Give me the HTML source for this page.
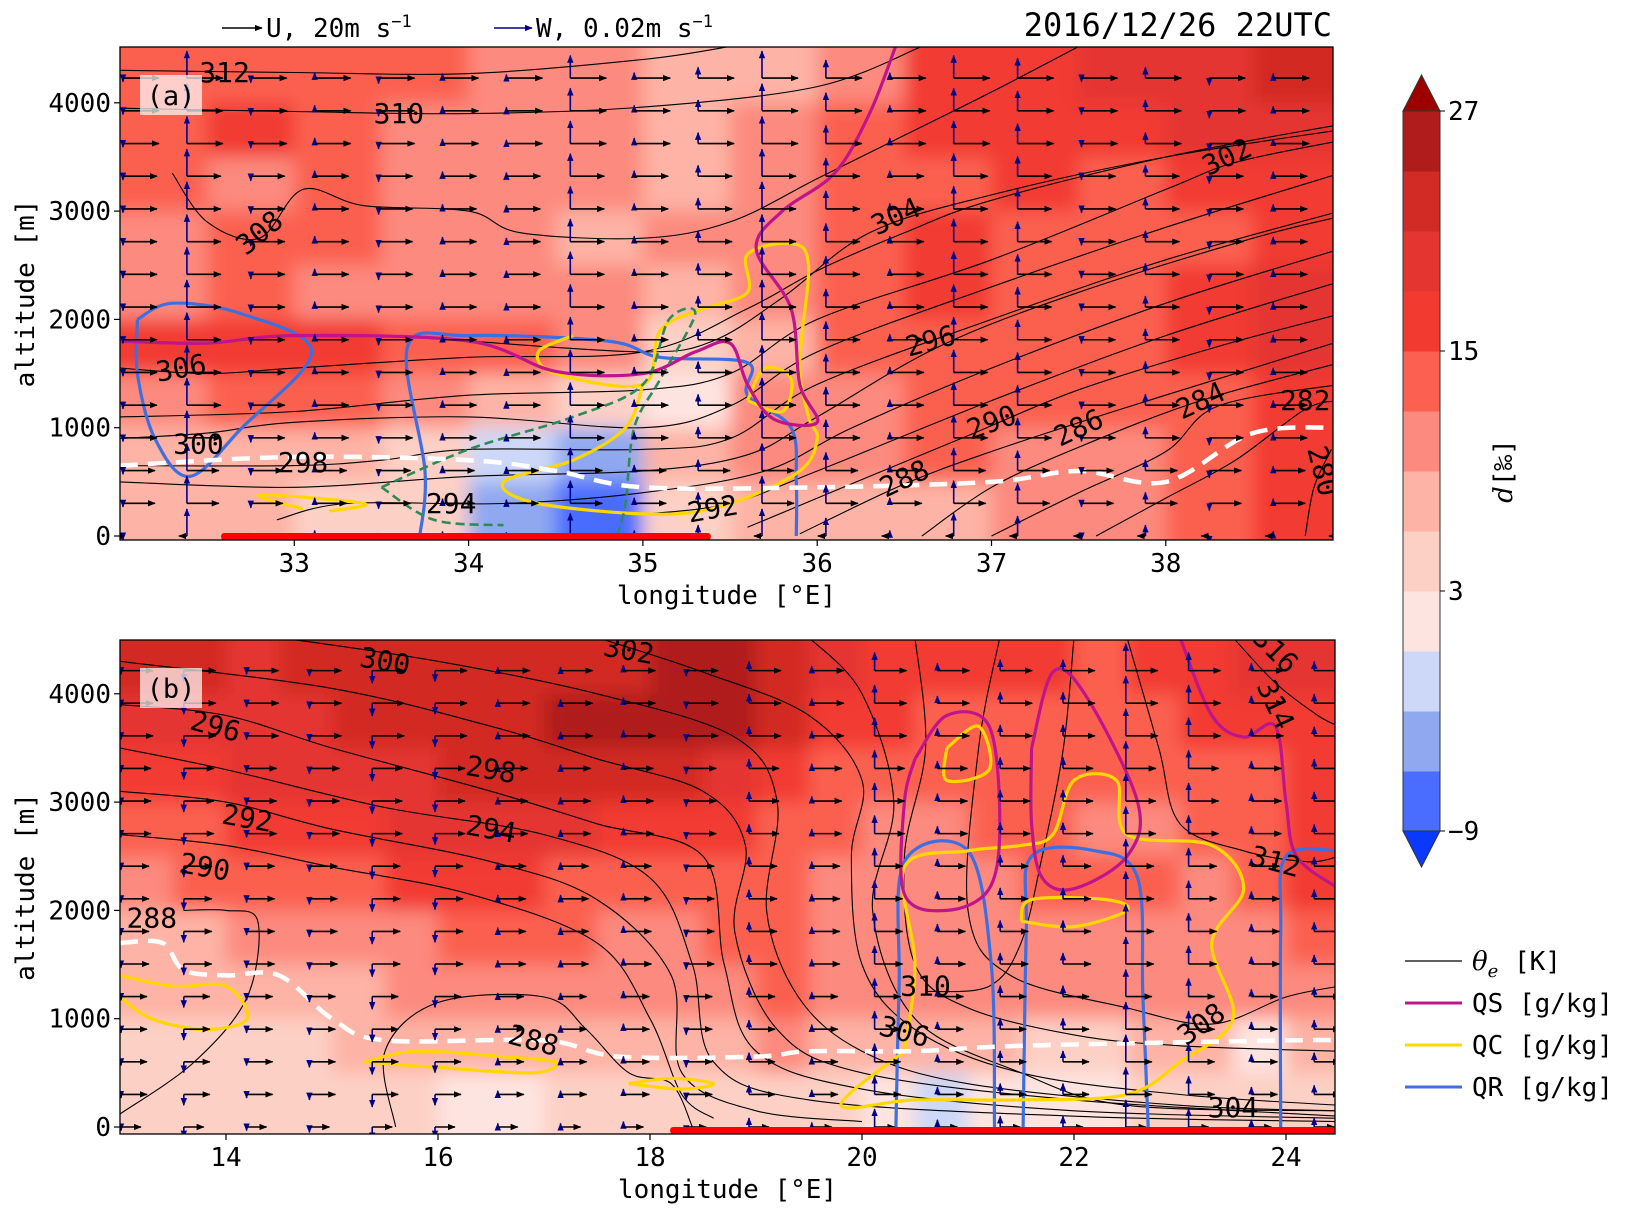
<!DOCTYPE html>
<html><head><meta charset="utf-8">
<style>
html,body{margin:0;padding:0;background:#fff;}
svg{display:block;font-family:"DejaVu Sans Mono","Liberation Mono",monospace;}
</style></head>
<body>
<svg id="fig" width="1628" height="1213" viewBox="0 0 1628 1213" xmlns="http://www.w3.org/2000/svg">
<defs>
  <filter id="blur" x="-5%" y="-5%" width="110%" height="110%"><feGaussianBlur stdDeviation="9"/></filter>
  <clipPath id="clipA"><rect x="120" y="47" width="1213" height="493"/></clipPath>
  <clipPath id="clipB"><rect x="120" y="640" width="1215" height="494"/></clipPath>
  <marker id="ahK" viewBox="0 0 10 10" refX="9" refY="5" markerWidth="5" markerHeight="5" orient="auto"><path d="M0,1 L10,5 L0,9 z" fill="#000"/></marker>
  <marker id="ahB" viewBox="0 0 10 10" refX="9" refY="5" markerWidth="5" markerHeight="5" orient="auto"><path d="M0,1 L10,5 L0,9 z" fill="#00008b"/></marker>
</defs>
<g id="root"></g>
</svg>
<script>
const cbBounds=[-9,-6,-3,0,3,6,9,12,15,18,21,24,27];
const cbColors=['#4a6cff','#8fa8f0','#cdd8f8','#fee4e0','#fdd0c5','#fdb3a5','#fc8a7e','#fb6050','#f23a30','#e43530','#d22a24','#b01c1c'];
const cbTicks=[27,15,3,-9];
const aLon=[32.25,32.75,33.25,33.75,34.25,34.75,35.25,35.75,36.25,36.75,37.25,37.75,38.25,38.75];
const aAlt=[4250,3750,3250,2750,2250,1750,1250,750,250];
const aD=[
[12,12,12,12,9,9,6,6,9,15,15,18,18,21],
[12,15,12,9,9,9,6,9,12,15,15,15,18,18],
[12,9,12,9,9,9,6,9,12,12,15,12,15,15],
[9,12,12,9,9,6,9,9,12,15,12,12,12,15],
[9,12,9,9,9,9,6,9,12,15,12,12,15,18],
[15,15,15,12,12,9,3,6,12,12,12,12,15,18],
[9,12,12,9,6,3,0,9,9,12,12,12,12,15],
[6,6,6,3,-3,-6,6,9,9,12,9,9,12,15],
[6,6,3,3,-6,-9,3,6,6,6,9,9,12,15]];
const bLon=[13.25,13.75,14.25,14.75,15.25,15.75,16.25,16.75,17.25,17.75,18.25,18.75,19.25,19.75,20.25,20.75,21.25,21.75,22.25,22.75,23.25,23.75,24.25];
const bAlt=[4250,3750,3250,2750,2250,1750,1250,750,250];
const bD=[
[21,21,18,21,21,21,21,21,21,21,24,24,21,18,15,15,15,15,12,15,15,18,18],
[18,18,18,18,21,21,21,21,24,24,27,24,21,15,15,12,12,12,12,12,15,15,15],
[15,15,18,18,18,18,21,21,21,21,21,18,15,12,12,12,12,12,12,12,12,12,15],
[12,12,15,15,15,18,18,18,18,15,15,15,12,12,9,9,12,12,9,9,12,12,15],
[9,12,12,12,12,15,15,15,12,12,12,12,12,9,9,9,9,12,12,12,9,12,15],
[6,6,9,9,9,9,12,12,12,9,9,12,12,9,9,9,9,9,9,9,9,9,12],
[6,6,6,6,6,9,9,9,9,9,9,9,12,9,9,9,9,9,9,9,9,9,9],
[3,3,3,3,6,6,6,6,6,6,6,6,9,6,6,6,6,3,3,6,6,0,6],
[3,3,3,3,3,3,0,0,3,3,3,3,3,3,0,-3,0,0,0,3,3,3,3]];
const aRowAlt=[0,302,604,906,1208,1510,1812,2114,2416,2718,3020,3322,3624,3926,4228];
const aU=[-4,16,16,17,17,17,17,17,17,17,17,17,18,18,18];
const aW=[-0.004,0.03,-0.005,0.006,-0.006,0.005,0.004,0.025,0.006,0.012,0.03,0.02,0.006,0.025,0.022,-0.004,0.012,-0.008,0.005,0.006];
const bRowAlt=[0,301,602,903,1204,1505,1806,2107,2408,2709,3010,3311,3612,3913,4214];
const bU=[10,13,13,13,13,14,14,14,14,15,15,15,16,16,16];
const bW=[-0.004,-0.012,-0.004,-0.006,-0.014,-0.012,0.004,0.004,0.006,-0.006,0.01,0.005,0.02,0.008,0.012,0.012,0.03,0.02,0.008,0.01,-0.008];
const aTheta=[
[312,[[32,4300],[33,4280],[34,4270],[35,4400],[35.5,4520]]],
[310,[[32,3950],[33,3920],[34,3900],[35,3960],[36,4150],[36.6,4520]]],
[308,[[32.3,3350],[32.5,2900],[32.8,2750],[33.05,3200],[33.4,3050],[34,3000],[34.3,2800],[35,2750],[35.5,2900],[36,3300],[36.5,3700],[37,4100],[37.5,4520]]],
[306,[[32,1550],[32.5,1500],[33,1550],[34,1650],[35,1700],[35.6,2100],[36,2450],[36.5,2800],[37,3100],[38,3500],[39,3800]]],
[304,[[34,1800],[35,1700],[35.4,1800],[35.8,2200],[36.3,2800],[37,3150],[38,3500],[39,3750]]],
[302,[[32,1100],[33,1150],[34,1300],[35,1350],[35.5,1500],[36,2000],[37,2550],[38,3200],[38.4,3450],[39,3650]]],
[300,[[32,900],[32.5,950],[33,1050],[34,1100],[35,1000],[35.5,1200],[36,1700],[37,2300],[38,2850],[39,3350]]],
[298,[[32,650],[33,650],[33.5,700],[34,800],[35,800],[35.5,900],[36,1400],[37,2000],[38,2550],[39,3000]]],
[296,[[32,500],[33,450],[34,550],[35,600],[35.6,750],[36,1100],[36.7,1750],[37.5,2250],[38.5,2750],[39,2950]]],
[294,[[32.9,150],[33.3,300],[34.2,300],[35,400],[35.7,600],[36.2,1000],[37,1550],[38,2150],[39,2650]]],
[292,[[35,200],[35.5,300],[36,600],[37,1250],[38,1850],[39,2350]]],
[290,[[35.6,80],[36.3,550],[36.9,950],[37.5,1350],[38.3,1750],[39,2050]]],
[288,[[35.9,20],[36.5,480],[37,780],[37.7,1150],[38.5,1550],[39,1800]]],
[286,[[36.6,0],[37,450],[37.5,820],[38.2,1250],[39,1600]]],
[284,[[37,0],[37.5,400],[38,780],[38.3,1200],[39,1400]]],
[282,[[37.6,0],[38,350],[38.4,700],[38.8,1170],[39,1250]]],
[280,[[38.8,0],[38.85,450],[38.95,800]]]];
const aLabels=[[312,32.6,4280,0],[310,33.6,3900,0],[308,32.8,2800,-40],[306,32.35,1550,-10],[304,36.45,2950,-25],[302,38.35,3500,-25],[300,32.45,850,0],[298,33.05,680,0],[296,36.65,1800,-15],[294,33.9,300,0],[292,35.4,250,-10],[290,37.0,1050,-20],[288,36.5,530,-25],[286,37.5,1000,-25],[284,38.2,1250,-25],[282,38.8,1250,0],[280,38.9,600,75]];
const bTheta=[
[302,[[17.5,4520],[18.5,4200],[19.5,3800],[20,3200],[19.9,2500],[20,1500],[20.5,900],[21.5,500],[23,300],[24.5,200]]],
[300,[[14.5,4520],[16,4300],[17.5,4000],[18.8,3600],[19.2,3000],[19.1,2000],[19.4,1200],[20,700],[21,400],[23,200],[24.5,150]]],
[298,[[13,4300],[15,4050],[16.5,3700],[17.5,3400],[18.5,3100],[18.9,2600],[18.8,1800],[19.2,900],[20,500],[22,250],[24.5,100]]],
[296,[[13,3900],[14,3800],[15,3500],[16.5,3100],[17.5,2800],[18.5,2500],[18.7,1500],[19,700],[20,350],[22,150],[24.5,80]]],
[294,[[13,3500],[14,3300],[15.5,2950],[17,2700],[18,2300],[18.4,1500],[18.6,600],[19.5,250],[22,100],[24.5,50]]],
[292,[[13,3100],[14,3000],[15,2750],[16.5,2450],[17.5,2100],[18.2,1400],[18.3,500],[19,150],[20,50]]],
[290,[[13,2700],[14,2600],[15,2400],[16.3,2150],[17.5,1700],[18,1000],[18.3,300],[18.6,80]]],
[288,[[13,120],[13.7,600],[14.2,1200],[14.3,1900],[14.0,2000],[13.6,2000]]],
[288,[[15.6,0],[15.5,700],[16,1150],[17,1200],[17.4,900],[17.8,500],[18.2,400],[18.4,0]]],
[304,[[19.5,4520],[20,4000],[20.3,3000],[20.1,2000],[20.5,1000],[21.5,500],[22.5,200],[24.5,150]]],
[306,[[20.5,4520],[20.6,3500],[20.4,2500],[20.5,1500],[21,1100],[22,850],[23,750],[24.5,700]]],
[308,[[21.3,4520],[21.1,3500],[21,2000],[21.4,1400],[22.5,1100],[23.3,950],[24,1200],[24.5,1300]]],
[310,[[22,4520],[21.9,3500],[21.7,2500],[21.5,1700],[21.2,1300],[20.6,1250]]],
[312,[[22.5,4520],[22.8,3500],[23,2800],[23.6,2550],[24.2,2450],[24.5,2500]]],
[314,[[23.5,4520],[23.9,4100],[24.3,3800],[24.5,3700]]]];
const bLabels=[[300,15.5,4300,10],[302,17.8,4400,10],[296,13.9,3700,15],[298,16.5,3300,10],[292,14.2,2850,10],[294,16.5,2750,10],[290,13.8,2400,10],[288,13.3,1930,0],[288,16.9,800,15],[310,20.6,1300,0],[306,20.4,880,15],[308,23.2,950,-35],[304,23.5,180,0],[312,23.9,2450,15],[314,23.9,3900,65],[316,23.9,4400,45]];
const aQS=[[[32,1800],[32.5,1780],[33,1850],[34,1800],[34.5,1520],[35,1500],[35.3,1700],[35.5,1780],[35.6,1400],[35.75,1080],[36,1050],[35.9,1400],[35.85,2100],[35.65,2650],[35.8,3000],[36.1,3350],[36.3,3900],[36.45,4520]]];
const aQC=[[[34.6,1850],[34.4,1700],[34.5,1500],[35,1400],[35.1,1900],[35.35,2100],[35.6,2250],[35.6,2600],[35.85,2700],[35.95,2500],[35.9,1600],[35.95,1100],[36,900],[35.9,600],[35.5,300],[35.1,200],[34.4,300],[34.2,500],[34.6,700],[34.9,1000],[35.0,1400]],
[[33.05,250],[32.8,380],[33.4,300],[33.2,230]],[[35.6,1250],[35.7,1550],[35.85,1450],[35.8,1150],[35.6,1250]]];
const aQR=[[[32.1,2000],[32.3,2150],[32.7,2050],[33.1,1700],[32.7,1000],[32.4,550],[32.2,900],[32.1,1500],[32.1,2000]],
[[33.72,0],[33.75,600],[33.65,1750],[34,1850],[34.8,1800],[35.1,1650],[35.6,1600],[35.6,1300],[35.85,1000],[35.88,500],[35.88,0]]];
const aGreen=[[[33.5,450],[34,800],[34.6,1100],[35,1400],[35.15,2000],[35.3,2050],[35.1,1450],[34.95,1000],[34.9,300],[34.85,0]],[[33.5,450],[33.8,150],[34.2,100]]];
const aWhite=[[32,650],[33,730],[34,700],[34.5,600],[35,450],[36,450],[37,500],[37.5,600],[38,500],[38.5,950],[39,1000]];
const bQS=[[[20.5,3400],[20.8,3800],[21.2,3700],[21.3,2800],[21.2,2200],[20.8,2000],[20.4,2150],[20.4,3000],[20.5,3400]],
[[21.6,3500],[21.8,4200],[22.1,4000],[22.6,3000],[22.5,2500],[22,2200],[21.7,2300],[21.6,2800],[21.6,3500]],
[[23,4520],[23.3,3800],[23.6,3600],[23.9,3700],[24.0,3000],[24.1,2500],[24.5,2200]]];
const bQC=[[[20.4,700],[20.5,1500],[20.4,2400],[21,2550],[21.5,2600],[21.8,2700],[22,3200],[22.4,3200],[22.5,2700],[23.3,2600],[23.6,2200],[23.3,1700],[23.5,1000],[23.0,600],[22.5,300],[21.5,250],[20.5,250],[19.8,200],[20.4,700]],
[[13,1400],[13.5,1300],[14.0,1300],[14.2,1000],[13.8,900],[13.3,1000],[13,1200]],
[[15.3,600],[16,550],[16.9,500],[17.1,600],[16.6,650],[15.8,700],[15.3,600]],
[[17.8,400],[18.3,350],[18.6,400],[18.2,450],[17.8,400]],
[[20.8,3500],[21.1,3700],[21.2,3300],[20.8,3200],[20.8,3500]],
[[21.5,1900],[21.6,2100],[22.3,2100],[22.5,2000],[22,1850],[21.5,1900]]];
const bQR=[[[20.32,0],[20.35,1300],[20.4,2450],[21.0,2550],[21.22,1500],[21.25,0]],
[[21.52,0],[21.55,1800],[21.6,2500],[22.2,2550],[22.6,2300],[22.65,1200],[22.7,0]],
[[23.95,0],[23.95,1800],[24.0,2500],[24.5,2550]]];
const bWhite=[[13,1700],[13.4,1700],[13.6,1450],[14,1400],[14.5,1400],[15,1000],[15.5,800],[17,800],[17.7,650],[19,650],[19.5,700],[20.5,700],[21.5,750],[24,800],[24.5,800]];

const NS='http://www.w3.org/2000/svg';
const root=document.getElementById('root');
function mk(tag,attrs,parent){const e=document.createElementNS(NS,tag);for(const k in attrs)e.setAttribute(k,attrs[k]);(parent||root).appendChild(e);return e;}
function colorOf(v){for(let i=0;i<cbColors.length;i++){if(v<cbBounds[i+1])return cbColors[i];}return cbColors[cbColors.length-1];}
function smooth(pts){if(pts.length<2)return '';let d='M'+pts[0][0].toFixed(1)+','+pts[0][1].toFixed(1);
 for(let i=0;i<pts.length-1;i++){const p0=pts[i-1]||pts[i],p1=pts[i],p2=pts[i+1],p3=pts[i+2]||p2;
  const c1=[p1[0]+(p2[0]-p0[0])/6,p1[1]+(p2[1]-p0[1])/6],c2=[p2[0]-(p3[0]-p1[0])/6,p2[1]-(p3[1]-p1[1])/6];
  d+=' C'+c1[0].toFixed(1)+','+c1[1].toFixed(1)+' '+c2[0].toFixed(1)+','+c2[1].toFixed(1)+' '+p2[0].toFixed(1)+','+p2[1].toFixed(1);}
 return d;}

function panel(cfg){
 const X=l=>cfg.x0+(l-cfg.lon0)*cfg.kx, Y=a=>cfg.yz-a*cfg.ky;
 const g=mk('g',{'clip-path':'url(#'+cfg.clip+')'});
 
 
 const hm=mk('g',{filter:'url(#blur)'},g);
 
 
 const dlon=cfg.lons[1]-cfg.lons[0], dalt=500;
 cfg.vals.forEach((row,ri)=>row.forEach((v,ci)=>{
  let x1=X(cfg.lons[ci]-dlon/2),x2=X(cfg.lons[ci]+dlon/2),y1=Y(cfg.alts[ri]+dalt/2),y2=Y(cfg.alts[ri]-dalt/2);
  if(ci==0)x1-=40; if(ci==row.length-1)x2+=40; if(ri==0)y1-=40; if(ri==cfg.vals.length-1)y2+=40;
  const r=mk('rect',{x:x1,y:y1,width:x2-x1+0.5,height:y2-y1+0.5,fill:colorOf(v)},hm);
  
  
 }));
 cfg.theta.forEach(t=>{const p=mk('path',{d:smooth(t[1].map(q=>[X(q[0]),Y(q[1])])),fill:'none',stroke:'#000','stroke-width':1.1},g);
  
  });
 const lines=(arr,col,w,dash,nm)=>arr.forEach(l=>{const p=mk('path',{d:smooth(l.map(q=>[X(q[0]),Y(q[1])])),fill:'none',stroke:col,'stroke-width':w,'stroke-dasharray':dash||'none'},g);
  
  });
 lines(cfg.qr,'#3d6fe0',3.2,null,'qr-contour');
 lines(cfg.qc,'#ffd700',3.2,null,'qc-contour');
 lines(cfg.qs,'#c0148c',3.2,null,'qs-contour');
 if(cfg.green)lines(cfg.green,'#2e8b57',2.6,'9,5','green-dashed-contour');
 lines([cfg.white],'#fff',4.5,'18,10','white-dashed-line');
 const vg=mk('g',{},g);
 
 
 for(let ri=0;ri<cfg.rowAlt.length;ri++){for(let ci=-1;ci<cfg.w.length+1;ci++){
  const tx=cfg.tx0+ci*cfg.tdx, ty=Y(cfg.rowAlt[ri]);
  const wv=cfg.w[Math.max(0,Math.min(cfg.w.length-1,ci))];
  let wl=wv*cfg.wk; wl=Math.max(-45,Math.min(45,wl));
  if(Math.abs(wl)>2){const b=mk('line',{x1:tx,y1:ty,x2:tx,y2:ty-wl,stroke:'#00008b','stroke-width':1.6,'marker-end':'url(#ahB)'},vg);
   
   }
  const ul=cfg.u[ri]*cfg.uk;
  const a=mk('line',{x1:tx,y1:ty,x2:tx+ul,y2:ty,stroke:'#000','stroke-width':1.6,'marker-end':'url(#ahK)'},vg);
  
  
 }}
 cfg.labels.forEach(l=>{const t=mk('text',{x:X(l[1]),y:Y(l[2]),'font-size':28,'text-anchor':'middle','dominant-baseline':'central',transform:'rotate('+l[3]+' '+X(l[1])+' '+Y(l[2])+')'},g);
  t.textContent=l[0];
  
  });
 const rb=mk('rect',{x:X(cfg.bar[0]),y:cfg.fb-7,width:Math.min(X(cfg.bar[1]),cfg.x1)-X(cfg.bar[0]),height:7,fill:'#ff0000',rx:3});
 
 
 const fr=mk('rect',{x:cfg.x0,y:cfg.ft,width:cfg.x1-cfg.x0,height:cfg.fb-cfg.ft,fill:'none',stroke:'#000','stroke-width':1.3});
 
 
 cfg.xt.forEach(v=>{const x=X(v);mk('line',{x1:x,y1:cfg.fb,x2:x,y2:cfg.fb+6,stroke:'#000','stroke-width':1.2});
  const t=mk('text',{x:x,y:cfg.fb+32,'font-size':26,'text-anchor':'middle'});t.textContent=v;
  
  });
 [0,1000,2000,3000,4000].forEach(v=>{const y=Y(v);mk('line',{x1:cfg.x0-6,y1:y,x2:cfg.x0,y2:y,stroke:'#000','stroke-width':1.2});
  const t=mk('text',{x:cfg.x0-9,y:y+9,'font-size':26,'text-anchor':'end'});t.textContent=v;
  
  });
 const xl=mk('text',{x:(cfg.x0+cfg.x1)/2,y:cfg.fb+64,'font-size':26,'text-anchor':'middle'});xl.textContent='longitude [°E]';
 
 
 const cy=(cfg.ft+cfg.fb)/2;
 const yl=mk('text',{x:0,y:0,'font-size':26,'text-anchor':'middle',transform:'translate(34 '+cy+') rotate(-90)'});yl.textContent='altitude [m]';
 
 
 const pb=mk('rect',{x:140,y:cfg.ft+28,width:62,height:40,fill:'#fff','fill-opacity':0.7});
 
 
 const pt=mk('text',{x:171,y:cfg.ft+58,'font-size':27,'text-anchor':'middle'});pt.textContent='('+cfg.name.slice(-1)+')';
 
 
}

panel({name:'panel-a',clip:'clipA',x0:120,x1:1333,lon0:32,kx:174.3,yz:536,ky:0.1083,ft:47,fb:540,
 lons:aLon,alts:aAlt,vals:aD,theta:aTheta,labels:aLabels,qs:aQS,qc:aQC,qr:aQR,green:aGreen,white:aWhite,
 rowAlt:aRowAlt,u:aU,w:aW,tx0:123,tdx:63.9,uk:2.0,wk:900,bar:[32.58,35.39],xt:[33,34,35,36,37,38]});
panel({name:'panel-b',clip:'clipB',x0:120,x1:1335,lon0:13,kx:106,yz:1127,ky:0.1083,ft:640,fb:1134,
 lons:bLon,alts:bAlt,vals:bD,theta:bTheta,labels:bLabels,qs:bQS,qc:bQC,qr:bQR,green:null,white:bWhite,
 rowAlt:bRowAlt,u:bU,w:bW,tx0:121,tdx:62.8,uk:2.0,wk:900,bar:[18.19,24.6],xt:[14,16,18,20,22,24]});

(function(){
 const cx=1403,cw=37,top=111,bot=831,cbY=v=>bot-(v-cbBounds[0])/(cbBounds[12]-cbBounds[0])*(bot-top);
 const cg=mk('g',{});
 
 
 cbColors.forEach((c,i)=>{const r=mk('rect',{x:cx,y:cbY(cbBounds[i+1]),width:cw,height:cbY(cbBounds[i])-cbY(cbBounds[i+1])+0.5,fill:c},cg);
  
  });
 mk('path',{d:`M${cx},${top} L${cx+cw/2},75 L${cx+cw},${top} Z`,fill:'#9e0000',stroke:'#333','stroke-width':1},cg);
 mk('path',{d:`M${cx},${bot} L${cx+cw/2},867 L${cx+cw},${bot} Z`,fill:'#0a38ff',stroke:'#333','stroke-width':1},cg);
 mk('rect',{x:cx,y:top,width:cw,height:bot-top,fill:'none',stroke:'#333','stroke-width':1},cg);
 cbTicks.forEach(v=>{const y=cbY(v);mk('line',{x1:cx+cw,y1:y,x2:cx+cw+5,y2:y,stroke:'#000'},cg);
  const t=mk('text',{x:cx+cw+8,y:y+9,'font-size':26},cg);t.textContent=(v<0?'\u2212'+(-v):v);
  
  });
 const lb=mk('text',{x:0,y:0,'font-size':26,'text-anchor':'middle',transform:'translate(1512 471) rotate(-90)'},cg);
 lb.innerHTML='<tspan font-style="italic" font-family="DejaVu Serif, serif">d</tspan>[‰]';
 
 
})();

(function(){
 const h=mk('g',{});
 
 
 mk('line',{x1:222,y1:28,x2:262,y2:28,stroke:'#000','stroke-width':1.6,'marker-end':'url(#ahK)'},h);
 const t1=mk('text',{x:266,y:37,'font-size':26},h);t1.innerHTML='U, 20m s<tspan dy="-10" font-size="17">\u22121</tspan>';
 
 
 mk('line',{x1:494,y1:28,x2:532,y2:28,stroke:'#00008b','stroke-width':1.6,'marker-end':'url(#ahB)'},h);
 const t2=mk('text',{x:536,y:37,'font-size':26},h);t2.innerHTML='W, 0.02m s<tspan dy="-10" font-size="17">\u22121</tspan>';
 
 
 const tt=mk('text',{x:1332,y:36,'font-size':32,'text-anchor':'end'});tt.textContent='2016/12/26 22UTC';
 
 
 const lg=mk('g',{});
 
 
 const items=[['#000',1.2,'θe',961],['#c0148c',3,'QS [g/kg]',1003],['#ffd700',3,'QC [g/kg]',1045],['#3d6fe0',3,'QR [g/kg]',1087]];
 items.forEach((it,i)=>{mk('line',{x1:1405,y1:it[3],x2:1462,y2:it[3],stroke:it[0],'stroke-width':it[1]},lg);
  const t=mk('text',{x:1472,y:it[3]+9,'font-size':26},lg);
  if(i==0)t.innerHTML='<tspan font-style="italic" font-family="DejaVu Serif, serif">θ</tspan><tspan font-style="italic" font-family="DejaVu Serif, serif" font-size="18" dy="7">e</tspan><tspan dy="-7"> [K]</tspan>';
  else t.textContent=it[2];
  
  });
})();
</script>
</body></html>
